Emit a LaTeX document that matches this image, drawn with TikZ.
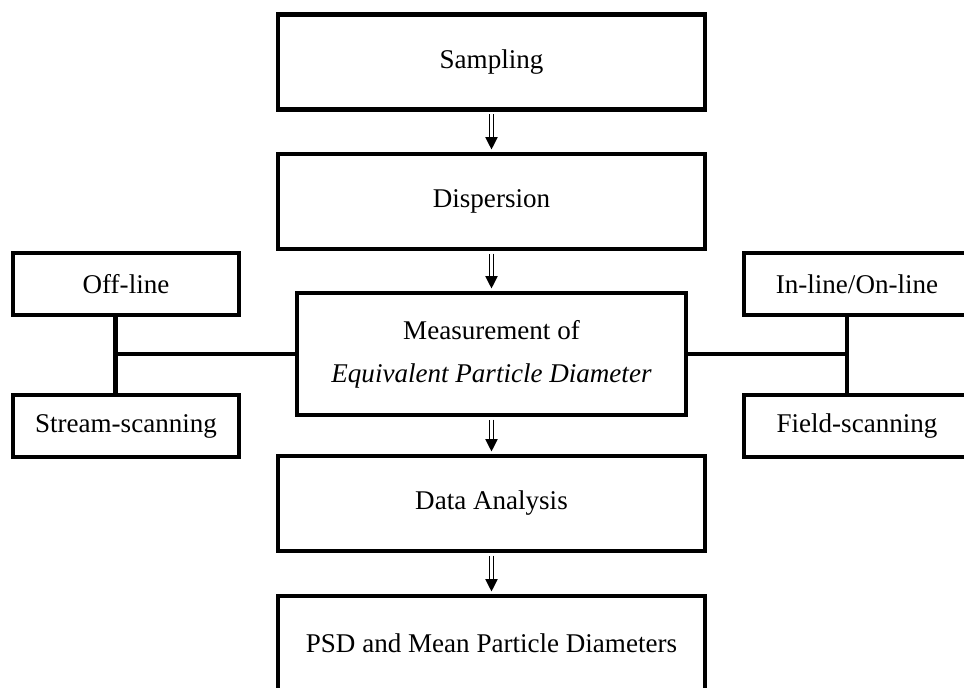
\documentclass[tikz,border=0pt]{standalone}
\usepackage{fontspec}
\setmainfont{Liberation Serif}
\usetikzlibrary{arrows.meta}

\tikzset{
  stage/.style={draw, line width=2.6pt, minimum width=8.54cm, minimum height=1.9cm,
    font=\fontsize{15.4}{24.5}\selectfont, align=center, inner sep=0pt},
  side/.style={stage, minimum width=4.52cm, minimum height=1.24cm},
  link/.style={line width=2.6pt},
  dbl/.style={double, double distance=1.8pt, line width=0.6pt, shorten <=1.3pt, shorten >=7pt},
  tipa/.style={-{Triangle[length=7pt,width=7pt]}, line width=0.6pt, shorten >=1.3pt}
}

\begin{document}
\begin{tikzpicture}[line join=miter,x=0.02cm,y=-0.02cm]
		\useasboundingbox (0,0) rectangle (964,687);
		\clip (0,0) rectangle (964,687);
		%%%%%%%%%%%%%%%%%%%%% S T A G E S %%%%%%%%%%%%%%%%%%%%%
		\node[stage] (samp) at (491.5,62) {Sampling};
		\node[stage] (disp) at (491.5,201.5) {Dispersion};
		\node[stage, minimum width=7.78cm, minimum height=2.44cm] (meas) at (491.5,354)
			{Measurement of\\\textit{Equivalent Particle Diameter}};
		\node[stage] (data) at (491.5,503.5) {Data Analysis};
		\node[stage] (psd) at (491.5,643.5) {PSD and Mean Particle Diameters};
		
		%%%% LEFT
		\node[side] (offl) at (126,284) {Off-line};
		\node[side] (strm) at (126,426) {Stream-scanning};
		%%%% RIGHT
		\node[side] (inl) at (857,284) {In-line/On-line};
		\node[side] (fld) at (857,426) {Field-scanning};
		
		%%%% FLECHAS
		\foreach \a/\b in {samp/disp, disp/meas, meas/data, data/psd}{
			\draw[dbl] (\a.south) -- (\b.north);
			\draw[tipa] ([yshift=8pt]\b.north) -- (\b.north);
		}
		
		%%%% UNIONES
		\coordinate (lj) at ([xshift=-0.21cm]offl.south);
		\coordinate (rj) at ([xshift=-0.2cm]inl.south);
		\draw[link] (lj) -- (lj |- strm.north);
		\draw[link] (meas.west) -- (lj |- meas.west);
		\draw[link] (rj) -- (rj |- fld.north);
		\draw[link] (meas.east) -- (rj |- meas.east);
	\end{tikzpicture}
\end{document}
